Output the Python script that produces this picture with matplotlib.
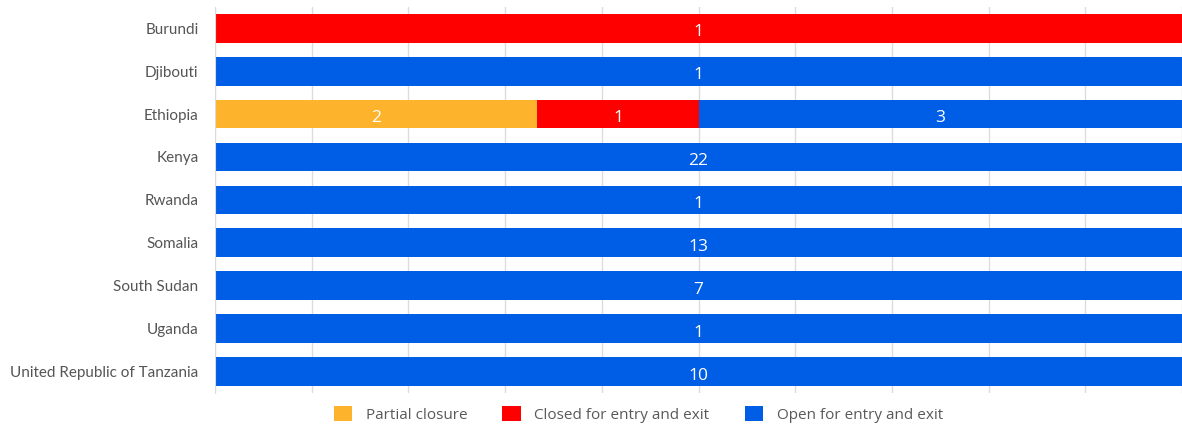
import matplotlib
matplotlib.use('Agg')
import matplotlib.pyplot as plt
import numpy as np

countries = ['Burundi', 'Djibouti', 'Ethiopia', 'Kenya', 'Rwanda', 'Somalia',
             'South Sudan', 'Uganda', 'United Republic of Tanzania']
partial = [0, 0, 2, 0, 0, 0, 0, 0, 0]
closed = [1, 0, 1, 0, 0, 0, 0, 0, 0]
open_ = [0, 1, 3, 22, 1, 13, 7, 1, 10]

series = [('Partial closure', partial, '#FDB42C'),
          ('Closed for entry and exit', closed, '#FF0000'),
          ('Open for entry and exit', open_, '#005EE6')]

totals = np.array(partial) + np.array(closed) + np.array(open_)
y = np.arange(len(countries))

fig = plt.figure(figsize=(11.82, 4.28), dpi=100)
ax = fig.add_axes([0.182, 0.082, 0.818, 0.902])

left = np.zeros(len(countries))
for name, vals, color in series:
    vals = np.array(vals, dtype=float)
    share = vals / totals * 100
    ax.barh(y, share, left=left, height=0.67, color=color, label=name, zorder=2)
    for i, v in enumerate(vals):
        if v > 0:
            ax.text(left[i] + share[i] / 2, y[i] + 0.05, f'{int(v)}', ha='center',
                    va='center_baseline', color='white', fontsize=12.5,
                    family='Open Sans', zorder=3)
    left += share

ax.set_xlim(0, 100)
ax.set_ylim(len(countries) - 0.5, -0.5)
ax.set_xticks(np.arange(0, 101, 10))
ax.xaxis.grid(True, color='#dcdcdc', linewidth=1, zorder=0)
ax.tick_params(axis='x', length=0, labelbottom=False)
ax.tick_params(axis='y', length=0, pad=12)
ax.set_yticks(y)
ax.set_yticklabels(countries, fontsize=11, family='Lato', color='#555555')
for s in ['top', 'right', 'bottom']:
    ax.spines[s].set_visible(False)
ax.spines['left'].set_color('#dcdcdc')

leg = fig.legend(loc='center', bbox_to_anchor=(0.54, 0.032), ncol=3, frameon=False,
                 prop={'family': 'Open Sans', 'size': 11}, handlelength=1.2,
                 handleheight=1.2, columnspacing=2.3, handletextpad=0.9)
for t in leg.get_texts():
    t.set_color('#595959')

fig.savefig('out.png', dpi=100)
